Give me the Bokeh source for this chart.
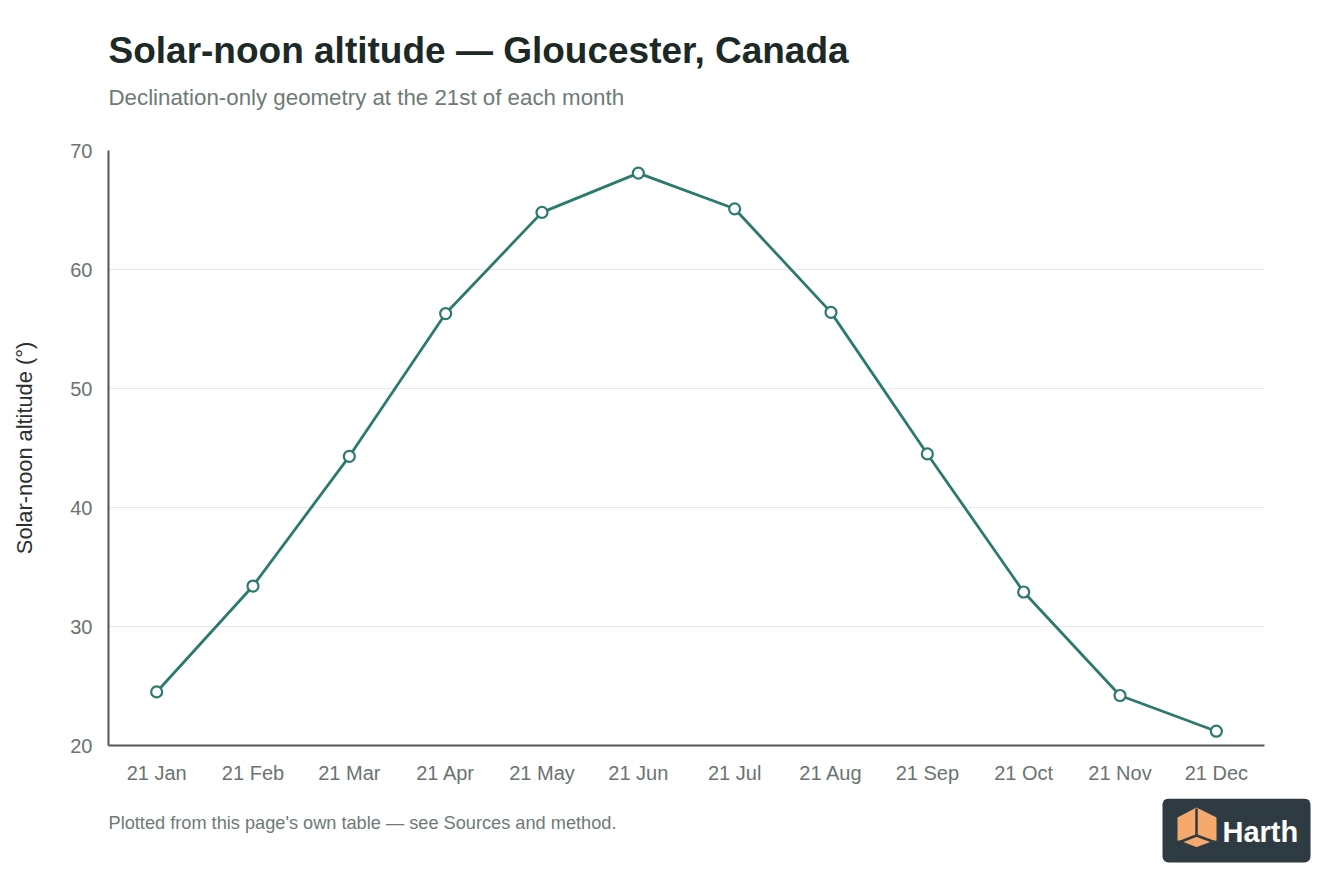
#altitud solar al mediodia, Gloucester
from bokeh.plotting import figure
from bokeh.models import ColumnDataSource, FactorRange, Range1d
from bokeh.layouts import column, row
from bokeh.core.properties import value
from bokeh.embed import file_html
from bokeh.resources import INLINE

FONT = "Liberation Sans"

months = ["21 Jan", "21 Feb", "21 Mar", "21 Apr", "21 May", "21 Jun",
          "21 Jul", "21 Aug", "21 Sep", "21 Oct", "21 Nov", "21 Dec"]
altitude = [24.5, 33.4, 44.3, 56.3, 64.8, 68.1, 65.1, 56.4, 44.5, 32.9, 24.2, 21.2]
y_ticks = [20, 30, 40, 50, 60, 70]

title_text = "Solar-noon altitude \u2014 Gloucester, Canada"
subtitle_text = "Declination-only geometry at the 21st of each month"
footer_text = "Plotted from this page's own table \u2014 see Sources and method."

teal = "#2b7a6d"


def blank(w, h):
    # figura vacia en coordenadas de pixel, para textos y logo
    fb = figure(width=w, height=h, x_range=Range1d(0, w), y_range=Range1d(h, 0),
                output_backend="svg", toolbar_location=None, min_border=0)
    fb.title = None
    fb.axis.visible = False
    fb.grid.visible = False
    fb.outline_line_color = None
    return fb


# encabezado
head = blank(1328, 130)
head.text(x=[108], y=[50], text=[title_text], text_font=value(FONT), text_font_size="37px",
          text_font_style="bold", text_color="#1c2926", text_baseline="middle")
head.text(x=[108], y=[97], text=[subtitle_text], text_font=value(FONT), text_font_size="22.3px",
          text_color="#6e7a76", text_baseline="middle")

source = ColumnDataSource(data=dict(month=months, alt=altitude))

p = figure(width=1328, height=668, x_range=FactorRange(*months, range_padding=0),
           y_range=Range1d(20, 70), output_backend="svg", toolbar_location=None,
           min_border_left=108, min_border_right=64, min_border_bottom=53,
           min_border_top=20)
p.title = None

p.line("month", "alt", source=source, line_color=teal, line_width=2.8)
p.scatter("month", "alt", source=source, size=11, fill_color="white",
          line_color=teal, line_width=2.2)

p.outline_line_color = None
p.background_fill_color = "white"
p.border_fill_color = "white"

p.xgrid.grid_line_color = None
p.ygrid.grid_line_color = "#e6e8e8"
p.ygrid.grid_line_width = 1
p.yaxis.ticker = y_ticks

for ax in (p.xaxis, p.yaxis):
    ax.axis_line_color = "#555555"
    ax.axis_line_width = 2
    ax.major_tick_line_color = None
    ax.minor_tick_line_color = None
    ax.major_label_text_font = FONT
    ax.major_label_text_font_size = "20px"
    ax.major_label_text_color = "#6b7370"

p.xaxis.major_label_standoff = 10
p.yaxis.major_label_standoff = 10
p.yaxis.axis_label = "Solar-noon altitude (\u00b0)"
p.yaxis.axis_label_text_font = FONT
p.yaxis.axis_label_text_font_size = "21.8px"
p.yaxis.axis_label_text_font_style = "normal"
p.yaxis.axis_label_text_color = "#2a2f2e"
p.yaxis.axis_label_standoff = 30

# pie de pagina con el logo
f = blank(1328, 80)
f.text(x=[108], y=[24], text=[footer_text], text_font=value(FONT), text_font_size="18.2px",
       text_color="#6e7a76", text_baseline="middle", text_align="left")

f.rect(x=[1236], y=[32], width=148, height=64, fill_color="#2f3b43",
       line_color=None, border_radius=6)
hx = [1196, 1216, 1216, 1196, 1177, 1177]
hy = [9, 19, 42, 50, 42, 19]
f.patch(hx, hy, fill_color="#f5a96c", line_color=None)
f.multi_line([[1196, 1196], [1196, 1178], [1196, 1215], [1178, 1196, 1215]],
             [[10, 37], [37, 44], [37, 44], [43, 50, 43]],
             line_color="#2f3b43", line_width=2.5)
f.text(x=[1222], y=[33], text=["Harth"], text_font=value(FONT), text_font_size="29px",
       text_font_style="bold", text_color="white", text_baseline="middle")

out = column(row(head), p, row(f), spacing=0)
open("out.html", "w").write(file_html(out, INLINE))
